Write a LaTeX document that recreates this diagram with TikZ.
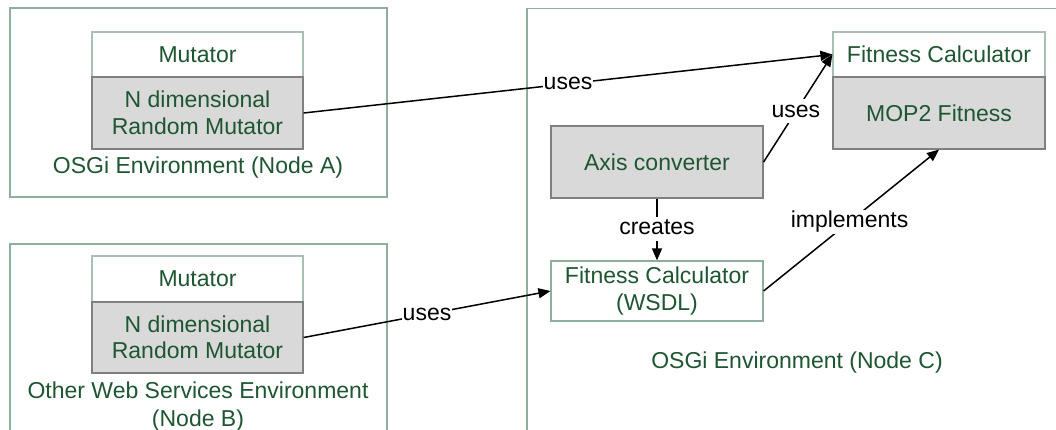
\documentclass[tikz,border=0pt]{standalone}
\usepackage{fontspec}
\setmainfont{Liberation Sans}
\usetikzlibrary{arrows.meta}
\definecolor{txtgreen}{HTML}{1E5631}
\definecolor{envborder}{HTML}{8FAE9E}
\definecolor{topborder}{HTML}{A8C0B2}
\definecolor{botborder}{HTML}{808080}
\definecolor{boxfill}{HTML}{D9D9D9}
\begin{document}
\begin{tikzpicture}[x=1pt,y=-1pt,
  font=\fontsize{23}{26.5}\selectfont,
  env/.style={draw=envborder, line width=1.2pt},
  toppart/.style={draw=topborder, fill=white, line width=1.2pt, text=txtgreen,
    minimum width=211pt, inner sep=0pt, align=center},
  botpart/.style={draw=botborder, fill=boxfill, line width=1.2pt, text=txtgreen,
    minimum width=211pt, inner sep=0pt, align=center},
  wsdlbox/.style={draw=envborder, fill=white, line width=1.2pt, text=txtgreen,
    minimum width=212pt, minimum height=60pt, inner sep=0pt, align=center},
  lbl/.style={fill=white, text=black, inner sep=1pt, text height=17pt, text depth=5pt},
  conn/.style={line width=1.5pt, -{Triangle[length=12pt,width=10pt]}},
  envlabel/.style={text=txtgreen, align=center, inner sep=0pt}]
\useasboundingbox (0,0) rectangle (1056,430);
\clip (0,0) rectangle (1056,430);
\fill[white] (0,0) rectangle (1056,430);
% environments
\draw[env] (10,8) rectangle (387,197);
\draw[env] (10,244) rectangle (387,450);
\draw[env] (527,8.5) rectangle (1080,450);
\node[envlabel] (labA) at (198,168) {OSGi Environment (Node A)};
\node[envlabel, font=\fontsize{23}{28}\selectfont] (labB) at (198,407) {Other Web Services Environment\\(Node B)};
\node[envlabel] (labC) at (797,363) {OSGi Environment (Node C)};
% Mutator A
\node[toppart, minimum height=45pt] (mAt) at (197.5,54.5) {Mutator};
\node[botpart, minimum height=72pt] (mAb) at (197.5,113) {N dimensional\\Random Mutator};
% Mutator B
\node[toppart, minimum height=46pt] (mBt) at (197.5,279) {Mutator};
\node[botpart, minimum height=71pt] (mBb) at (197.5,337.5) {N dimensional\\Random Mutator};
% Fitness calculator
\node[toppart, minimum width=212pt, minimum height=45pt] (fcT) at (939,54.5) {Fitness Calculator};
\node[botpart, minimum width=212pt, minimum height=72pt] (fcB) at (939,113) {MOP2 Fitness};
% Axis converter
\node[botpart, minimum width=212pt, minimum height=72pt] (ax) at (657,162) {Axis converter};
% WSDL
\node[wsdlbox] (wsdl) at (657,291) {Fitness Calculator\\(WSDL)};
% connectors
\draw[conn] (mAb.east) -- node[lbl, pos=0.5] (uA) {uses} (fcT.west);
\draw[conn] (ax.east) -- node[lbl, pos=0.47] (uX) {uses} (fcT.west);
\draw[conn] (ax.south) -- node[lbl, pos=0.49] (cr) {creates} (wsdl.north);
\draw[conn] (wsdl.east) -- node[lbl, pos=0.49] (im) {implements} (fcB.south);
\draw[conn] (mBb.east) -- node[lbl, pos=0.5] (uB) {uses} (wsdl.west);
\end{tikzpicture}
\end{document}
